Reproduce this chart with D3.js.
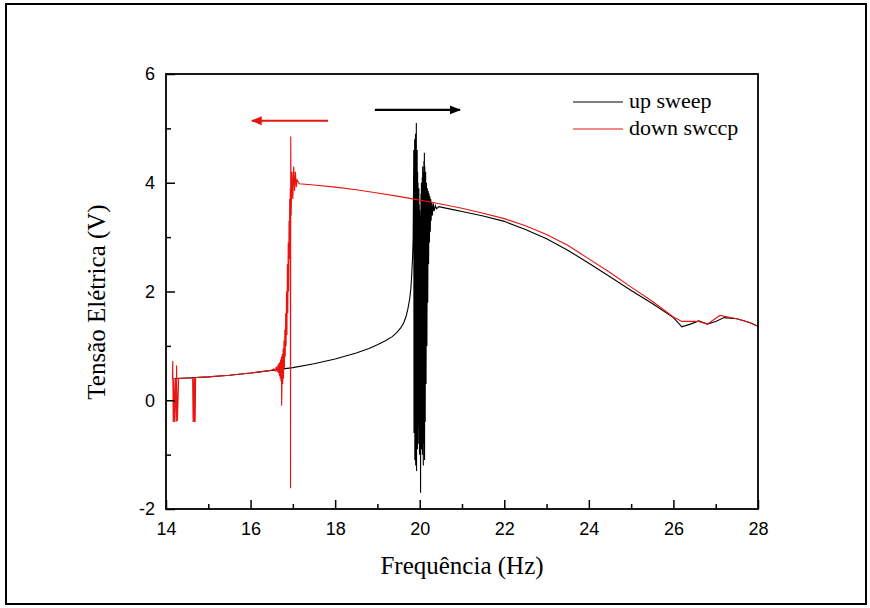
<!DOCTYPE html>
<meta charset="utf-8">
<script src="https://cdn.jsdelivr.net/npm/d3@7"></script>
<style>
body { margin: 0; background: #fff; }
text.tick { font: 18px "Liberation Sans", Arial, sans-serif; fill: #000; }
text.title { font: 25px "Liberation Serif", "Times New Roman", serif; fill: #000; }
text.legend { font: 22px "Liberation Serif", "Times New Roman", serif; fill: #000; }
</style>
<body>
<script>

// up sweep (black): [frequency Hz, voltage V]
var upSweep = [
  [14.2,0.40],[14.5,0.41],[15,0.43],[15.5,0.46],[16,0.50],[16.5,0.55],[17,0.60],
  [17.5,0.67],[18,0.76],[18.5,0.87],[18.8,0.95],[19,1.02],[19.2,1.10],[19.35,1.17],
  [19.45,1.24],[19.55,1.33],[19.62,1.42],[19.68,1.55],[19.72,1.68],[19.76,1.85],
  [19.79,2.05],[19.81,2.3],[19.83,2.6],[19.845,3.0],
  [19.86,4.6],[19.865,-0.6],[19.87,4.4],[19.875,0.2],[19.88,4.8],[19.885,-1.1],
  [19.89,4.0],[19.895,0.5],[19.90,4.9],[19.905,-1.2],[19.91,4.5],[19.915,-0.4],
  [19.92,5.1],[19.925,-1.3],[19.93,4.3],[19.935,0.1],[19.94,4.6],[19.945,-0.9],
  [19.95,4.2],[19.955,-0.3],[19.96,4.0],[19.965,-0.8],[19.97,3.8],[19.975,0.0],
  [19.98,3.9],[19.985,-0.5],[19.99,3.6],[19.995,-1.0],[20.00,3.5],[20.005,-0.2],
  [20.01,3.4],[20.02,-1.7],[20.03,3.8],[20.035,-0.6],[20.04,4.0],[20.045,-0.9],
  [20.05,3.7],[20.055,-0.3],[20.06,4.1],[20.065,-1.0],[20.07,4.3],[20.075,-0.5],
  [20.08,3.9],[20.085,-1.2],[20.09,4.2],[20.095,-0.2],[20.10,4.4],[20.105,-0.8],
  [20.11,4.55],[20.115,-1.1],[20.12,4.3],[20.13,-0.4],[20.14,4.2],[20.15,0.3],
  [20.16,4.0],[20.17,1.0],[20.18,3.9],[20.19,1.8],[20.2,3.85],[20.21,2.5],
  [20.22,3.8],[20.23,2.9],[20.24,3.75],[20.25,3.1],[20.26,3.7],[20.27,3.3],
  [20.28,3.65],[20.3,3.4],[20.32,3.62],[20.34,3.48],[20.37,3.58],[20.4,3.52],
  [20.45,3.56],[20.7,3.52],[21,3.47],[21.5,3.39],[22,3.29],[22.5,3.14],[23,2.97],
  [23.5,2.76],[24,2.52],[24.5,2.27],[25,2.02],[25.5,1.78],[26,1.52],[26.2,1.35],
  [26.4,1.40],[26.6,1.46],[26.8,1.40],[27,1.45],[27.2,1.52],[27.5,1.50],[27.8,1.43],
  [28,1.36]
];

// down sweep (red)
var downSweep = [
  [28,1.36],[27.8,1.43],[27.5,1.50],[27.1,1.56],[26.8,1.40],[26.6,1.45],[26.2,1.45],
  [26,1.53],[25.5,1.82],[25,2.08],[24.5,2.35],[24,2.60],[23.5,2.85],[23,3.05],
  [22.5,3.21],[22,3.34],[21.5,3.44],[21,3.53],[20.5,3.61],[20,3.68],[19.5,3.75],
  [19,3.81],[18.5,3.87],[18,3.92],[17.5,3.96],[17.15,3.98],
  [17.1,4.05],[17.08,3.92],[17.06,4.2],[17.04,3.85],[17.02,4.3],[17.0,3.7],
  [16.98,4.2],[16.96,3.4],[16.95,4.85],[16.945,-1.62],[16.94,3.9],[16.93,3.1],
  [16.925,3.7],[16.92,2.6],[16.91,3.3],[16.9,2.0],[16.89,2.9],[16.88,1.6],
  [16.87,2.5],[16.86,1.2],[16.85,2.0],[16.84,1.0],[16.83,1.6],[16.82,0.8],
  [16.81,1.3],[16.8,0.6],[16.79,1.1],[16.78,0.4],[16.77,0.95],[16.76,0.3],
  [16.75,0.85],[16.74,0.15],[16.735,-0.1],[16.73,0.8],[16.72,0.35],[16.71,0.75],
  [16.7,0.4],[16.69,0.7],[16.68,0.45],[16.67,0.68],[16.66,0.5],[16.65,0.65],
  [16.63,0.52],[16.61,0.62],[16.58,0.54],[16.55,0.58],[16.5,0.55],
  [16,0.50],[15.5,0.46],[15,0.43],[14.7,0.42],[14.69,-0.4],[14.68,0.42],
  [14.67,-0.4],[14.66,0.40],[14.64,-0.4],[14.63,0.41],[14.5,0.41],[14.3,0.40],
  [14.27,-0.38],[14.25,0.64],[14.24,-0.4],[14.22,0.40],[14.2,-0.4],[14.18,0.4],
  [14.17,-0.4],[14.16,0.72],[14.15,0.38]
];

var xTicks = [14, 16, 18, 20, 22, 24, 26, 28];
var yTicks = [-2, 0, 2, 4, 6];
var xMinor = [15, 17, 19, 21, 23, 25, 27];
var yMinor = [-1, 1, 3, 5];

var series = [
  {name: "up sweep", color: "#000", values: upSweep},
  {name: "down swccp", color: "#e8140f", values: downSweep}
];

// sweep direction arrows
var arrows = [
  {from: 17.83, to: 16.03, v: 5.14, color: "#e8140f"},
  {from: 18.94, to: 20.95, v: 5.34, color: "#000"}
];

var width = 870, height = 608;
var pL = 166, pR = 758, pT = 74, pB = 509;

var svg = d3.select("body").append("svg")
    .attr("width", width)
    .attr("height", height);

// outer frame
svg.append("rect")
    .attr("x", 6).attr("y", 4)
    .attr("width", 860).attr("height", 600)
    .style("fill", "none").style("stroke", "#000").style("stroke-width", 2);

var x = d3.scaleLinear().domain([14, 28]).range([pL, pR]);
var y = d3.scaleLinear().domain([-2, 6]).range([pB, pT]);

var defs = svg.append("defs");
arrows.forEach(function(a, i) {
  defs.append("marker")
      .attr("id", "head" + i)
      .attr("viewBox", "0 0 10 10")
      .attr("refX", 9).attr("refY", 5)
      .attr("markerWidth", 5).attr("markerHeight", 5)
      .attr("markerUnits", "strokeWidth")
      .attr("orient", "auto")
    .append("path")
      .attr("d", "M0,1L10,5L0,9Z")
      .style("fill", a.color);
});

defs.append("clipPath").attr("id", "plotclip")
  .append("rect").attr("x", pL).attr("y", pT - 1)
  .attr("width", pR - pL).attr("height", pB - pT + 2);

var line = d3.line()
    .x(function(d) { return x(d[0]); })
    .y(function(d) { return y(d[1]); });

svg.append("g").attr("clip-path", "url(#plotclip)")
  .selectAll("path")
  .data(series)
  .enter().append("path")
    .attr("d", function(d) { return line(d.values); })
    .style("fill", "none")
    .style("stroke", function(d) { return d.color; })
    .style("stroke-width", 1.1)
    .style("stroke-linejoin", "miter");

// axes with inward ticks, plain hyphen for negatives
var fmt = function(d) { return String(d); };
var xAxis = svg.append("g")
    .attr("transform", "translate(0," + pB + ")")
    .call(d3.axisBottom(x).tickValues(xTicks).tickFormat(fmt).tickSizeInner(-9).tickSizeOuter(0).tickPadding(13));
var xMin = svg.append("g")
    .attr("transform", "translate(0," + pB + ")")
    .call(d3.axisBottom(x).tickValues(xMinor).tickSizeInner(-5).tickSizeOuter(0).tickFormat(""));
var yAxis = svg.append("g")
    .attr("transform", "translate(" + pL + ",0)")
    .call(d3.axisLeft(y).tickValues(yTicks).tickFormat(fmt).tickSizeInner(-9).tickSizeOuter(0).tickPadding(11));
var yMin = svg.append("g")
    .attr("transform", "translate(" + pL + ",0)")
    .call(d3.axisLeft(y).tickValues(yMinor).tickSizeInner(-5).tickSizeOuter(0).tickFormat(""));

[xAxis, xMin, yAxis, yMin].forEach(function(g) {
  g.attr("font-size", null).attr("font-family", null);
  g.select(".domain").remove();
  g.selectAll("line").style("stroke", "#000").style("stroke-width", 1.5);
  g.selectAll("text").attr("class", "tick");
});

// plot frame
svg.append("rect")
    .attr("x", pL).attr("y", pT)
    .attr("width", pR - pL).attr("height", pB - pT)
    .style("fill", "none").style("stroke", "#000").style("stroke-width", 1.8);

// arrows
svg.selectAll(".arrow")
  .data(arrows)
  .enter().append("line")
    .attr("class", "arrow")
    .attr("x1", function(d) { return x(d.from); })
    .attr("x2", function(d) { return x(d.to); })
    .attr("y1", function(d) { return y(d.v); })
    .attr("y2", function(d) { return y(d.v); })
    .attr("marker-end", function(d, i) { return "url(#head" + i + ")"; })
    .style("stroke", function(d) { return d.color; })
    .style("stroke-width", 2.2);

// legend
var legend = svg.selectAll(".leg")
  .data(series)
  .enter().append("g")
    .attr("class", "leg")
    .attr("transform", function(d, i) { return "translate(573," + (102 + i * 27) + ")"; });
legend.append("line")
    .attr("x1", 0).attr("x2", 50)
    .style("stroke", function(d) { return d.color; })
    .style("stroke-width", 1.1);
legend.append("text")
    .attr("class", "legend")
    .attr("x", 56).attr("y", 6)
    .text(function(d) { return d.name; });

// axis titles
svg.append("text")
    .attr("class", "title")
    .attr("x", 462).attr("y", 574)
    .attr("text-anchor", "middle")
    .text("Frequência (Hz)");

svg.append("text")
    .attr("class", "title")
    .attr("transform", "translate(105,302) rotate(-90)")
    .attr("text-anchor", "middle")
    .text("Tensão Elétrica (V)");

</script>
</body>
